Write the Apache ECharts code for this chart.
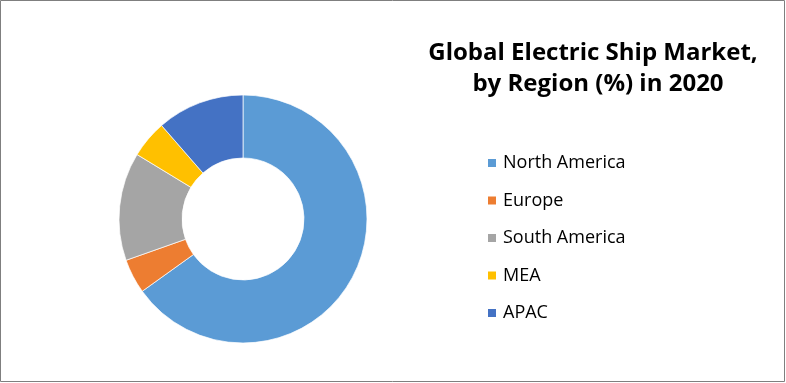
<!DOCTYPE html>
<html>
<head>
<meta charset="utf-8">
<script src="https://cdn.jsdelivr.net/npm/echarts@6/dist/echarts.min.js"></script>
<style>
html,body{margin:0;padding:0;background:#fff;}
#chart{width:786px;height:383px;}
</style>
</head>
<body>
<div id="chart"></div>
<script>
const titleLines = ['Global Electric Ship Market,', 'by Region (%) in 2020'];
const categories = ['North America', 'Europe', 'South America', 'MEA', 'APAC'];
const values = [65.1, 4.5, 14.1, 4.9, 11.4];
const colors = ['#5B9BD5', '#ED7D31', '#A5A5A5', '#FFC000', '#4472C4'];

const titleStyle = {
  fontFamily: 'Open Sans',
  fontWeight: 'bold',
  fontSize: 24,
  lineHeight: 24,
  color: '#000'
};

const chart = echarts.init(document.getElementById('chart'), null, {renderer: 'canvas'});
chart.setOption({
  animation: false,
  backgroundColor: '#fff',
  color: colors,
  title: [{
    text: titleLines[0],
    left: 593,
    top: 41,
    padding: 0,
    textAlign: 'center',
    textStyle: titleStyle
  }, {
    text: titleLines[1],
    left: 598,
    top: 72,
    padding: 0,
    textAlign: 'center',
    textStyle: titleStyle
  }],
  legend: {
    orient: 'vertical',
    left: 481,
    top: 148,
    itemWidth: 10,
    itemHeight: 10,
    itemGap: 17.5,
    icon: 'rect',
    data: categories,
    textStyle: {
      fontFamily: 'Open Sans',
      fontSize: 18,
      lineHeight: 20,
      color: '#000',
      padding: [0, 0, 0, 1]
    }
  },
  graphic: [{
    type: 'rect',
    shape: {x: 0.5, y: 0.5, width: 784, height: 381},
    style: {fill: 'none', stroke: '#7f7f7f', lineWidth: 1},
    silent: true
  }],
  series: [{
    type: 'pie',
    center: [243, 219],
    radius: [61, 124],
    startAngle: 90,
    clockwise: true,
    label: {show: false},
    labelLine: {show: false},
    itemStyle: {borderColor: '#fff', borderWidth: 0.7},
    emphasis: {disabled: true},
    data: categories.map((c, i) => ({name: c, value: values[i]}))
  }]
});
</script>
</body>
</html>
